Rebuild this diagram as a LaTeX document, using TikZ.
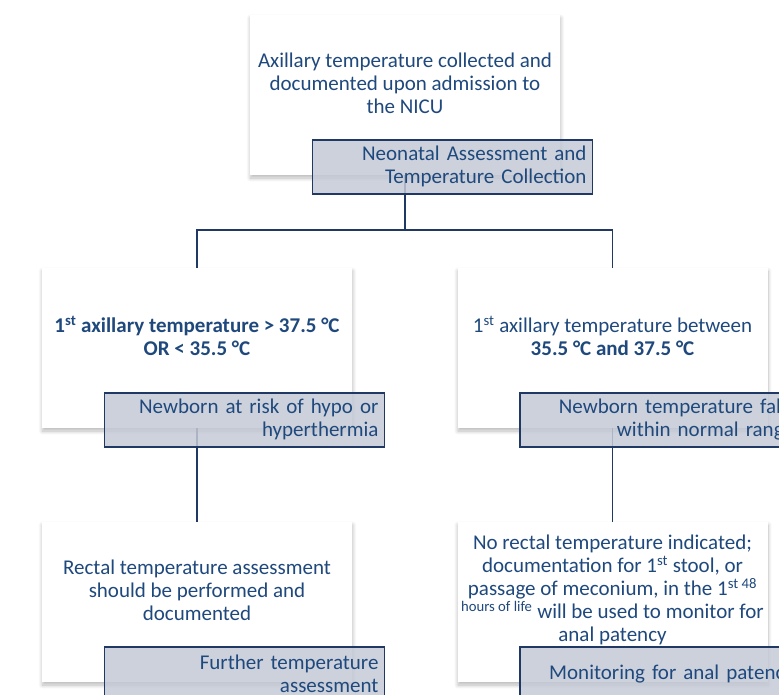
\documentclass[tikz,border=0pt]{standalone}
\usepackage{fontspec}
\setmainfont{Carlito}
\usetikzlibrary{shadows.blur}
\definecolor{textblue}{RGB}{31,73,125}
\definecolor{lineblue}{RGB}{31,56,100}
\definecolor{tagfill}{RGB}{196,202,214}

\begin{document}
\begin{tikzpicture}[x=1pt, y=-1pt,
    font=\fontsize{21}{23}\selectfont, text=textblue,
    card/.style={rectangle, fill=white, minimum width=310pt, minimum height=160pt,
      blur shadow={shadow xshift=0.5pt, shadow yshift=-3pt, shadow blur radius=4pt,
        shadow blur steps=8, shadow opacity=28}},
    cardtext/.style={align=center, inner sep=0pt},
    tag/.style={rectangle, draw=lineblue, line width=1.3pt, fill=tagfill, fill opacity=0.85,
      text opacity=1, minimum width=280pt, minimum height=54pt, text width=268pt,
      align=right, inner xsep=6pt, anchor=north west},
    link/.style={draw=lineblue, line width=1.6pt},
    ]
    \useasboundingbox (0,0) rectangle (779,694);
    \clip (0,0) rectangle (779,694);
    % cards
    \node[card] (admit) at (405,95) {};
    \node[card] (hyper) at (197,348) {};
    \node[card] (normal) at (612.5,348) {};
    \node[card] (rectal) at (197,602) {};
    \node[card] (patency) at (612.5,602) {};
    % card texts
    \node[cardtext] (admittext) at ([yshift=12pt]admit.center)
      {Axillary temperature collected and\\ documented upon admission to\\ the NICU};
    \node[cardtext, font=\fontsize{21}{23}\selectfont\bfseries] (hypertext) at ([yshift=12pt]hyper.center)
      {1\textsuperscript{st} axillary temperature > 37.5 °C\\ OR < 35.5 °C};
    \node[cardtext] (normaltext) at ([yshift=12pt]normal.center)
      {1\textsuperscript{st} axillary temperature between\\ \textbf{35.5 °C and 37.5 °C}};
    \node[cardtext] (rectaltext) at ([yshift=12pt]rectal.center)
      {Rectal temperature assessment\\ should be performed and\\ documented};
    \node[cardtext] (patencytext) at ([yshift=12pt]patency.center)
      {No rectal temperature indicated;\\ documentation for 1\textsuperscript{st} stool, or\\
       passage of meconium, in the 1\textsuperscript{st 48}\\
       \textsuperscript{hours of life} will be used to monitor for\\ anal patency};
    % connectors
    \draw[link] (admit.south) -- ++(0,55) coordinate (fork) -| (hyper.north);
    \draw[link] (fork) -| (normal.north);
    \draw[link] (hyper.south) -- (rectal.north);
    \draw[link] (normal.south) -- (patency.north);
    % tags
    \node[tag] (admittag) at ([xshift=62pt, yshift=36pt]admit.south west)
      {Neonatal Assessment and\\ Temperature Collection};
    \node[tag] (hypertag) at ([xshift=62pt, yshift=36pt]hyper.south west)
      {Newborn at risk of hypo or\\ hyperthermia};
    \node[tag] (normaltag) at ([xshift=62pt, yshift=36pt]normal.south west)
      {Newborn temperature falls\\ within normal range};
    \node[tag] (rectaltag) at ([xshift=62pt, yshift=36pt]rectal.south west)
      {Further temperature\\ assessment};
    \node[tag] (patencytag) at ([xshift=62pt, yshift=36pt]patency.south west)
      {Monitoring for anal patency};
  \end{tikzpicture}
\end{document}
